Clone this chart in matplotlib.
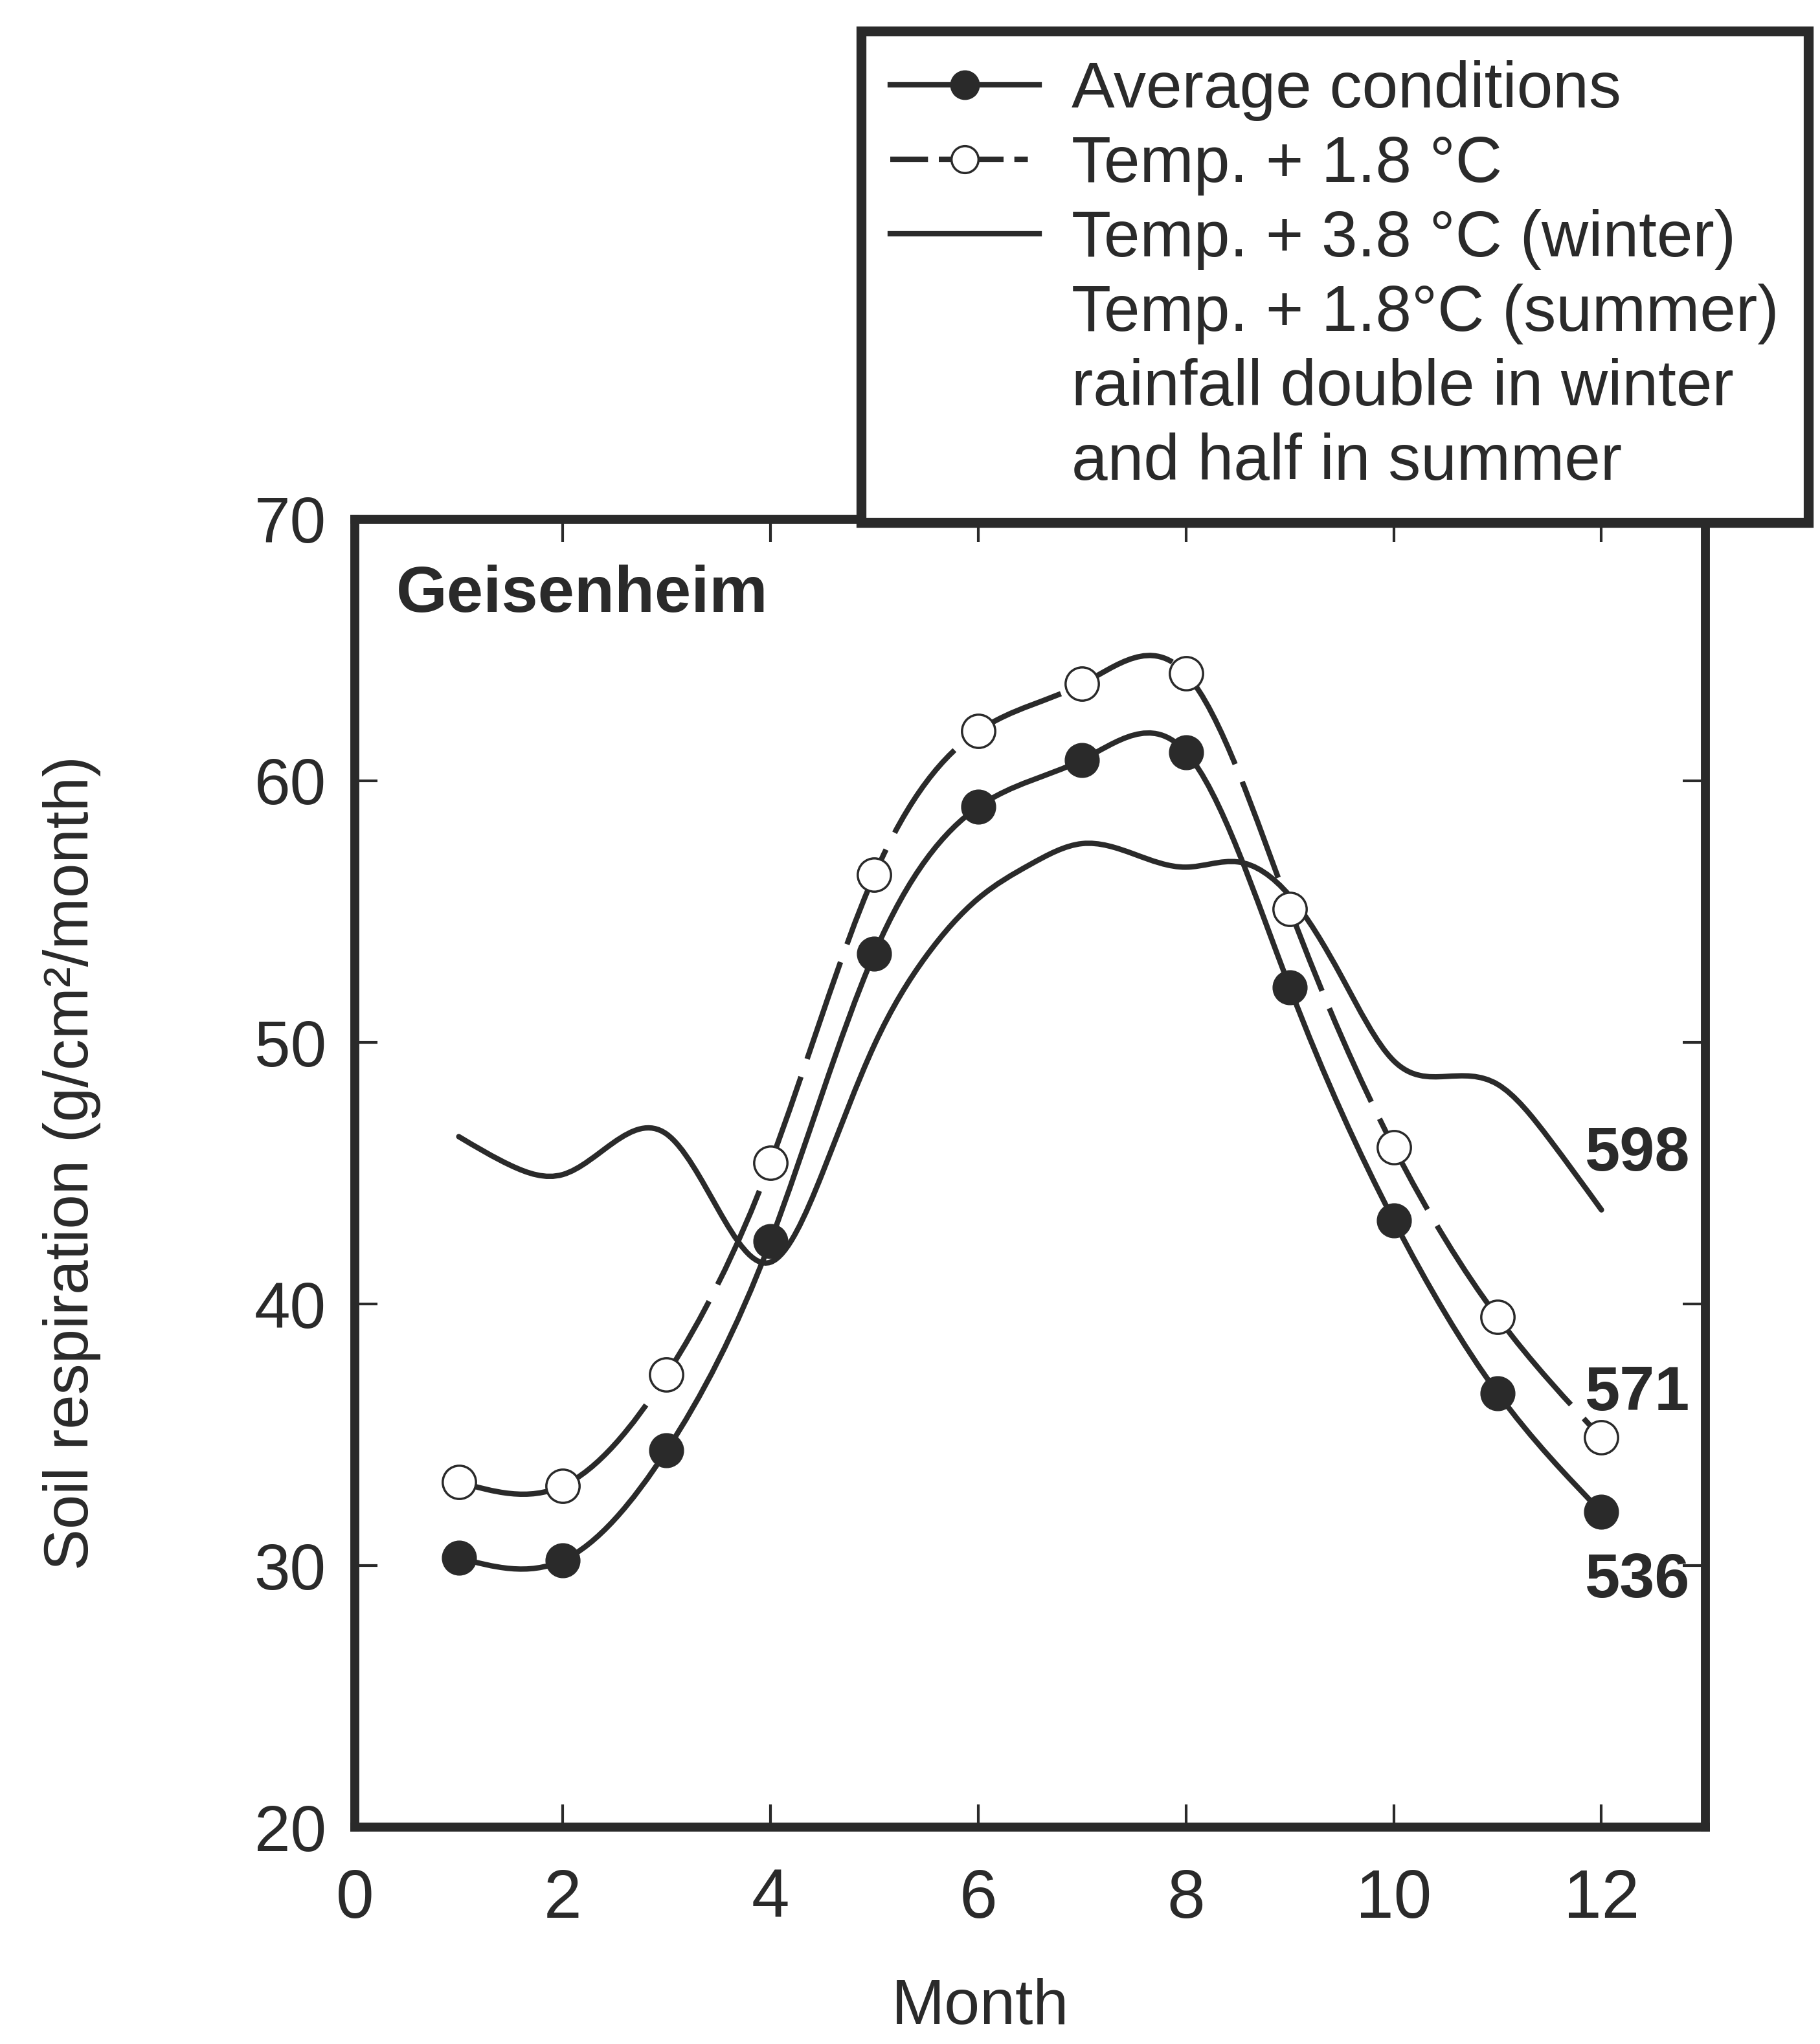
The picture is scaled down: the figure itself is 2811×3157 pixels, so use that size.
import numpy as np
import matplotlib
matplotlib.use("Agg")
import matplotlib.pyplot as plt
from matplotlib.path import Path
from matplotlib.patches import PathPatch
from matplotlib.lines import Line2D

# ------------------ data ------------------ #
months = [1, 2, 3, 4, 5, 6, 7, 8, 9, 10, 11, 12]
avg_resp = [30.3, 30.2, 34.4, 42.4, 53.4, 59.0, 60.8, 61.1, 52.1, 43.2, 36.6, 32.05]
warm_resp = [33.2, 33.05, 37.3, 45.4, 56.4, 61.9, 63.7, 64.1, 55.1, 46.0, 39.5, 34.9]

# scenario without markers, read every half month
scen_months = [1, 1.5, 2, 2.5, 3, 3.5, 4, 4.5, 5, 5.5, 6, 6.5, 7, 7.5, 8, 8.5,
               9, 9.5, 10, 10.5, 11, 11.5, 12]
scen_resp = [46.4, 45.3, 44.95, 46.2, 46.5, 43.6, 41.6, 45.0, 49.9, 53.3, 55.5,
             56.8, 57.6, 57.2, 56.7, 56.9, 55.6, 52.5, 49.3, 48.7, 48.4, 46.3, 43.6]

end_labels = ["598", "571", "536"]
end_label_y = [45.1, 35.95, 28.8]

legend_labels = ["Average conditions", "Temp. + 1.8 °C", "Temp. + 3.8 °C (winter)",
                 "Temp. + 1.8°C (summer)", "rainfall double in winter",
                 "and half in summer"]

INK = "#2a2a2a"
SANS = ["Liberation Sans", "DejaVu Sans"]
NARROW = ["Liberation Sans Narrow", "Liberation Sans", "DejaVu Sans"]


def spline_path(x, y):
    """natural cubic spline through the points, as bezier segments"""
    x = np.asarray(x, float)
    y = np.asarray(y, float)
    n = len(x)
    h = np.diff(x)
    A = np.zeros((n, n))
    b = np.zeros(n)
    A[0, 0] = A[-1, -1] = 1.0
    for i in range(1, n - 1):
        A[i, i - 1] = h[i - 1]
        A[i, i] = 2 * (h[i - 1] + h[i])
        A[i, i + 1] = h[i]
        b[i] = 6 * ((y[i + 1] - y[i]) / h[i] - (y[i] - y[i - 1]) / h[i - 1])
    M = np.linalg.solve(A, b)
    m = np.zeros(n)
    for i in range(n - 1):
        m[i] = (y[i + 1] - y[i]) / h[i] - h[i] * (2 * M[i] + M[i + 1]) / 6
    m[-1] = (y[-1] - y[-2]) / h[-1] + h[-1] * (M[-2] + 2 * M[-1]) / 6

    verts = [(x[0], y[0])]
    codes = [Path.MOVETO]
    for i in range(n - 1):
        verts += [(x[i] + h[i] / 3, y[i] + m[i] * h[i] / 3),
                  (x[i + 1] - h[i] / 3, y[i + 1] - m[i + 1] * h[i] / 3),
                  (x[i + 1], y[i + 1])]
        codes += [Path.CURVE4] * 3
    return Path(verts, codes)


fig = plt.figure(figsize=(28.11, 31.57), dpi=100)
ax = fig.add_axes([0.195, 0.106, 0.742, 0.640])

LW = 6

# ---- curves ---- #
ax.add_patch(PathPatch(spline_path(scen_months, scen_resp), fill=False,
                       edgecolor=INK, lw=LW, capstyle="round", zorder=2))
ax.add_patch(PathPatch(spline_path(months, warm_resp), fill=False,
                       edgecolor=INK, lw=LW, linestyle=(0, (19, 3.5)),
                       capstyle="butt", zorder=3))
ax.add_patch(PathPatch(spline_path(months, avg_resp), fill=False,
                       edgecolor=INK, lw=LW, capstyle="round", zorder=4))

ax.plot(months, warm_resp, linestyle="none", marker="o", ms=37,
        mfc="white", mec=INK, mew=2.5, zorder=5)
ax.plot(months, avg_resp, linestyle="none", marker="o", ms=38,
        mfc=INK, mec=INK, zorder=6)

# ---- axes ---- #
ax.set_xlim(0, 13)
ax.set_ylim(20, 70)
ax.set_xticks(range(0, 13, 2))
ax.set_yticks(range(20, 71, 10))
ax.tick_params(direction="in", length=25, width=3, color=INK,
               top=True, right=True)
ax.tick_params(axis="x", pad=45)
ax.tick_params(axis="y", pad=32)
for lab in ax.get_xticklabels():
    lab.set_family(NARROW)
    lab.set_fontsize(76)
    lab.set_color(INK)
for lab in ax.get_yticklabels():
    lab.set_family(SANS)
    lab.set_fontsize(72)
    lab.set_color(INK)
for sp in ax.spines.values():
    sp.set_linewidth(10)
    sp.set_color(INK)

ax.set_xlabel("Month", family=NARROW, fontsize=71, color=INK, va="top")
ax.xaxis.set_label_coords(0.463, -0.115)
ax.set_ylabel("Soil respiration (g/cm²/month)", family=NARROW, fontsize=69,
              color=INK)
ax.yaxis.set_label_coords(-0.188, 0.508)

ax.text(0.40, 66.45, "Geisenheim", family=SANS, fontsize=73,
        fontweight="bold", color=INK, va="baseline", ha="left")
for lab, yv in zip(end_labels, end_label_y):
    ax.text(11.84, yv, lab, family=SANS, fontsize=70, fontweight="bold",
            color=INK, va="baseline", ha="left", zorder=7)

# ---- legend ---- #
handles = [
    Line2D([], [], color=INK, lw=LW, marker="o", ms=32, mfc=INK, mec=INK),
    Line2D([], [], color=INK, lw=LW, linestyle=(0, (7, 2, 2.5, 2.5)),
           marker="o", ms=30, mfc="white", mec=INK, mew=2.5),
    Line2D([], [], color=INK, lw=LW),
    Line2D([], [], linestyle="none"),
    Line2D([], [], linestyle="none"),
    Line2D([], [], linestyle="none"),
]
leg = fig.legend(handles, legend_labels, loc="upper left",
                 bbox_to_anchor=(0.4731, 0.9848), bbox_transform=fig.transFigure,
                 prop={"family": SANS, "size": 72}, handlelength=2.3,
                 handletextpad=0.5, labelspacing=0.21, borderpad=0.45,
                 borderaxespad=0, fancybox=False, framealpha=1,
                 edgecolor=INK)
leg.get_frame().set_linewidth(11)
for t in leg.get_texts():
    t.set_color(INK)
leg.set_zorder(10)

fig.savefig("out.png", dpi=100, facecolor="white")
